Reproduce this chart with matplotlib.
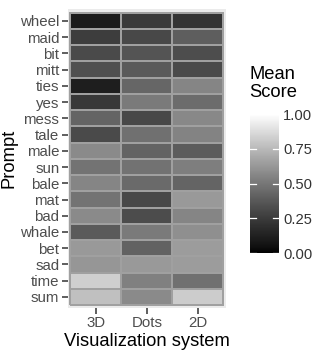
import numpy as np
import matplotlib
matplotlib.use("Agg")
import matplotlib.pyplot as plt
from matplotlib.colors import ListedColormap

plt.rcParams["font.family"] = ["Liberation Sans", "DejaVu Sans"]

prompts = ["wheel", "maid", "bit", "mitt", "ties", "yes", "mess", "tale", "male",
           "sun", "bale", "mat", "bad", "whale", "bet", "sad", "time", "sum"]
systems = ["3D", "Dots", "2D"]

score_3d = [0.09, 0.26, 0.315, 0.34, 0.115, 0.235, 0.424, 0.315, 0.575,
            0.488, 0.555, 0.488, 0.575, 0.382, 0.632, 0.62, 0.831, 0.777]
score_dots = [0.244, 0.306, 0.357, 0.382, 0.432, 0.512, 0.306, 0.472, 0.42,
              0.484, 0.448, 0.306, 0.323, 0.512, 0.415, 0.632, 0.536, 0.575]
score_2d = [0.212, 0.399, 0.332, 0.315, 0.555, 0.456, 0.567, 0.548, 0.391,
            0.528, 0.424, 0.632, 0.555, 0.59, 0.644, 0.644, 0.472, 0.82]


# black -> white gradient in Lab space (like ggplot's scale_fill_gradient)
def lab_gray(L):
    L = np.asarray(L) * 100
    Y = np.where(L > 8, ((L + 16) / 116) ** 3, L / 903.3)
    g = np.where(Y <= 0.0031308, 12.92 * Y, 1.055 * Y ** (1 / 2.4) - 0.055)
    return np.clip(g, 0, 1)

lv = np.linspace(0, 1, 256)
gv = lab_gray(lv)
cmap = ListedColormap(np.column_stack([gv, gv, gv]))

data = np.column_stack([score_3d, score_dots, score_2d])

fig = plt.figure(figsize=(3.21, 3.59), dpi=100)
ax = fig.add_axes([0.211, 0.142, 0.493, 0.834])
ax.set_facecolor("#EBEBEB")

n = len(prompts)
xe = np.arange(len(systems) + 1) + 0.5
ye = np.arange(n + 1) + 0.5
mesh = ax.pcolormesh(xe, ye, data[::-1], cmap=cmap, vmin=0, vmax=1,
                     edgecolor="#a0a0a0", linewidth=0.2)

ax.set_xlim(0.45, 3.55)
ax.set_ylim(0.32, n + 0.75)
ax.set_xticks(range(1, 4))
ax.set_xticklabels(systems)
ax.set_yticks(range(1, n + 1))
ax.set_yticklabels(prompts[::-1])
for s in ax.spines.values():
    s.set_visible(False)
ax.tick_params(axis="both", colors="#333333", length=4, width=1.1,
               labelsize=10.8, labelcolor="#4D4D4D", pad=2)
ax.set_xlabel("Visualization system", fontsize=13.2, labelpad=2)
ax.set_ylabel("Prompt", fontsize=13.2, labelpad=2)

# colorbar
cax = fig.add_axes([0.779, 0.295, 0.09, 0.387])
cb = fig.colorbar(mesh, cax=cax, ticks=[0, 0.25, 0.5, 0.75, 1.0])
cb.outline.set_visible(False)
cb.ax.set_yticklabels(["0.00", "0.25", "0.50", "0.75", "1.00"])
cb.ax.tick_params(length=0, labelsize=10.6, labelcolor="#333333", pad=3)
for t in [0, 0.25, 0.5, 0.75, 1.0]:
    cax.plot([0, 0.2], [t, t], color="white", lw=0.9, transform=cax.get_yaxis_transform())
    cax.plot([0.8, 1.0], [t, t], color="white", lw=0.9, transform=cax.get_yaxis_transform())
fig.text(0.776, 0.718, "Mean\nScore", fontsize=13.2, ha="left", va="bottom",
         linespacing=1.1)

fig.savefig("out.png", dpi=100)
